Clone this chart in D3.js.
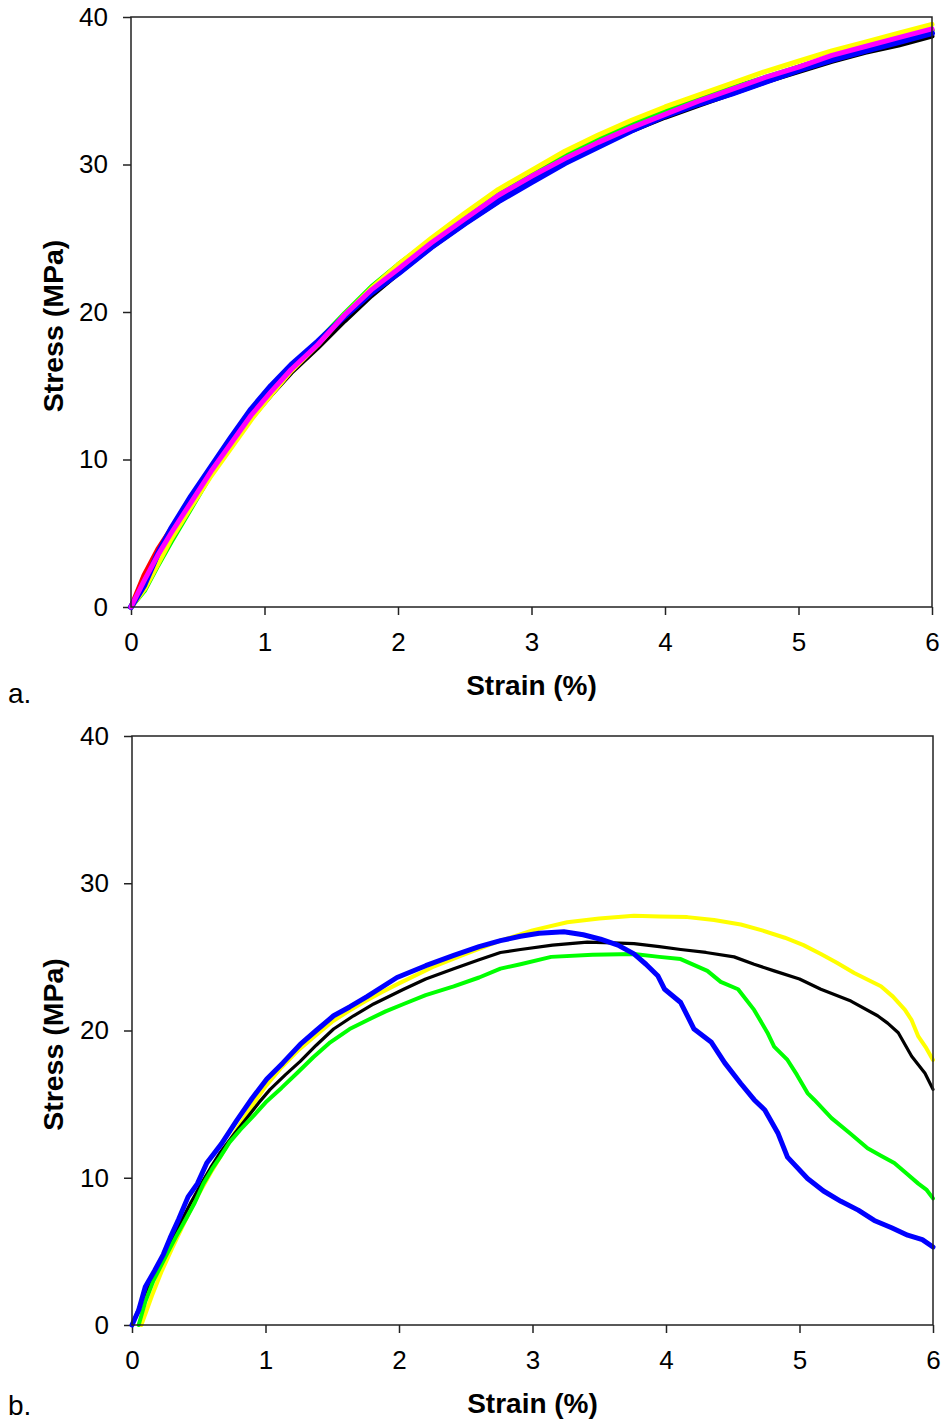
<!DOCTYPE html>
<html>
<head>
<meta charset="utf-8">
<script src="https://cdn.jsdelivr.net/npm/d3@7"></script>
<style>
  body { margin: 0; background: #fff; }
  text { font-family: "Liberation Sans", Arial, sans-serif; }
</style>
</head>
<body>
<div id="chart"></div>
<script>
// panel a: one strain grid, six specimens
var aStrain = [0, 0.1, 0.2, 0.3, 0.45, 0.6, 0.75, 0.9, 1.05, 1.2, 1.4, 1.6, 1.8, 2.0, 2.25, 2.5, 2.75, 3.0, 3.25, 3.5, 3.75, 4.0, 4.25, 4.5, 4.75, 5.0, 5.25, 5.5, 5.75, 6.0];
var aBlack   = [0, 1.6, 3.3, 4.9, 7.0, 9.0, 11.0, 12.8, 14.4, 15.9, 17.6, 19.4, 21.1, 22.6, 24.4, 26.0, 27.5, 28.9, 30.1, 31.3, 32.3, 33.2, 34.0, 34.8, 35.6, 36.3, 37.0, 37.6, 38.1, 38.7];
var aRed     = [0, 2.2, 3.9, 5.3, 7.3, 9.4, 11.3, 13.1, 14.7, 16.2, 17.9, 19.8, 21.4, 22.9, 24.7, 26.3, 27.8, 29.1, 30.4, 31.5, 32.5, 33.4, 34.2, 35.0, 35.8, 36.6, 37.3, 38.0, 38.6, 39.1];
var aGreen   = [0, 1.1, 2.8, 4.4, 6.7, 9.0, 11.0, 12.9, 14.6, 16.2, 18.0, 19.9, 21.7, 23.2, 24.9, 26.5, 28.0, 29.4, 30.6, 31.7, 32.7, 33.6, 34.4, 35.2, 35.9, 36.6, 37.3, 38.0, 38.6, 39.1];
var aYellow  = [0, 1.2, 2.9, 4.6, 6.8, 8.9, 10.8, 12.7, 14.4, 16.0, 17.8, 19.8, 21.6, 23.2, 25.0, 26.7, 28.3, 29.6, 30.9, 32.0, 33.0, 33.9, 34.7, 35.5, 36.3, 37.0, 37.7, 38.3, 38.9, 39.5];
var aBlue    = [0, 1.5, 3.6, 5.3, 7.5, 9.5, 11.5, 13.4, 15.0, 16.4, 18.0, 19.7, 21.3, 22.6, 24.4, 26.0, 27.5, 28.8, 30.1, 31.2, 32.3, 33.3, 34.1, 34.8, 35.6, 36.4, 37.1, 37.7, 38.3, 38.9];
var aMagenta = [0, 1.8, 3.5, 5.0, 7.1, 9.2, 11.1, 13.0, 14.6, 16.1, 17.8, 19.8, 21.5, 22.9, 24.7, 26.3, 27.9, 29.2, 30.4, 31.5, 32.5, 33.4, 34.3, 35.1, 35.9, 36.6, 37.4, 38.0, 38.6, 39.2];

// panel b: four specimens, [strain, stress]
var bYellow = [[0.07,0],[0.11,1.0],[0.15,2.0],[0.22,3.6],[0.3,5.2],[0.4,7.1],[0.5,8.9],[0.6,10.5],[0.7,12.0],[0.8,13.5],[0.9,14.9],[1.0,16.2],[1.12,17.5],[1.25,18.7],[1.38,19.7],[1.5,20.6],[1.62,21.3],[1.75,22.0],[1.87,22.6],[2.0,23.2],[2.25,24.3],[2.5,25.2],[2.76,26.1],[3.0,26.8],[3.26,27.35],[3.5,27.6],[3.76,27.8],[3.95,27.75],[4.16,27.7],[4.36,27.5],[4.56,27.2],[4.72,26.8],[4.89,26.3],[5.03,25.8],[5.16,25.2],[5.28,24.6],[5.41,23.9],[5.61,23.0],[5.7,22.3],[5.79,21.4],[5.84,20.7],[5.89,19.6],[5.95,18.8],[6.0,18.0]];
var bBlack = [[0,0],[0.08,1.8],[0.185,3.9],[0.27,5.4],[0.36,6.9],[0.44,8.3],[0.52,9.6],[0.59,10.7],[0.66,11.7],[0.76,12.9],[0.86,14.05],[0.95,15.1],[1.035,16.0],[1.15,17.0],[1.26,17.9],[1.38,19.0],[1.51,20.1],[1.66,21.0],[1.81,21.8],[2.035,22.8],[2.2,23.5],[2.41,24.2],[2.6,24.8],[2.76,25.3],[2.91,25.5],[3.15,25.8],[3.41,26.0],[3.6,25.95],[3.76,25.9],[3.95,25.7],[4.11,25.5],[4.3,25.3],[4.51,25.0],[4.66,24.5],[4.81,24.05],[5.0,23.5],[5.16,22.8],[5.385,22.0],[5.585,21.0],[5.66,20.5],[5.74,19.85],[5.84,18.25],[5.94,17.1],[6.0,16.0]];
var bGreen = [[0.05,0],[0.1,1.6],[0.16,3.0],[0.26,4.8],[0.33,6.0],[0.41,7.3],[0.47,8.3],[0.535,9.6],[0.6,10.6],[0.66,11.4],[0.73,12.4],[0.81,13.25],[0.91,14.2],[1.01,15.2],[1.12,16.1],[1.235,17.1],[1.36,18.2],[1.485,19.2],[1.63,20.1],[1.785,20.8],[1.9,21.3],[2.035,21.8],[2.2,22.4],[2.41,23.0],[2.6,23.6],[2.76,24.2],[2.91,24.5],[3.14,25.0],[3.45,25.15],[3.76,25.2],[3.95,25.0],[4.11,24.85],[4.31,24.05],[4.41,23.3],[4.54,22.8],[4.66,21.4],[4.76,19.85],[4.81,18.9],[4.91,18.0],[4.98,17.0],[5.06,15.75],[5.11,15.3],[5.24,14.05],[5.38,13.0],[5.51,12.0],[5.61,11.5],[5.71,11.0],[5.8,10.3],[5.89,9.6],[5.95,9.2],[6.0,8.6]];
var bBlue = [[0,0],[0.05,1.0],[0.1,2.6],[0.17,3.7],[0.235,4.8],[0.285,5.9],[0.35,7.2],[0.42,8.7],[0.49,9.6],[0.56,11.0],[0.67,12.3],[0.785,13.9],[0.9,15.4],[1.01,16.7],[1.13,17.8],[1.26,19.05],[1.38,20.0],[1.51,21.0],[1.63,21.6],[1.76,22.3],[1.985,23.6],[2.2,24.4],[2.41,25.1],[2.6,25.7],[2.76,26.1],[2.91,26.4],[3.05,26.6],[3.235,26.7],[3.38,26.5],[3.51,26.2],[3.64,25.8],[3.76,25.2],[3.85,24.5],[3.94,23.7],[3.99,22.8],[4.11,21.9],[4.21,20.1],[4.34,19.2],[4.44,17.8],[4.56,16.4],[4.66,15.3],[4.74,14.6],[4.84,13.0],[4.91,11.4],[5.06,9.95],[5.18,9.1],[5.31,8.4],[5.44,7.8],[5.56,7.1],[5.69,6.6],[5.81,6.1],[5.92,5.8],[6.0,5.3]];

var xTicks = [0, 1, 2, 3, 4, 5, 6];
var yTicks = [0, 10, 20, 30, 40];

var svg = d3.select("#chart").append("svg")
  .attr("width", 944)
  .attr("height", 1424);

function drawPanel(box, series, letter, letterY) {
  var x = d3.scaleLinear().domain([0, 6]).range([box.left, box.right]);
  var y = d3.scaleLinear().domain([0, 40]).range([box.bottom, box.top]);

  var g = svg.append("g");

  g.append("g")
    .attr("transform", `translate(0, ${box.bottom})`)
    .call(d3.axisBottom(x).tickValues(xTicks).tickSize(8).tickPadding(18).tickFormat(d3.format("d")))
    .call(a => a.select(".domain").remove())
    .call(a => a.selectAll("text").attr("font-size", 26).attr("fill", "#000").attr("font-family", "Liberation Sans, Arial, sans-serif"))
    .call(a => a.selectAll("line").attr("stroke", "#222").attr("stroke-width", 1.5));

  g.append("g")
    .attr("transform", `translate(${box.left}, 0)`)
    .call(d3.axisLeft(y).tickValues(yTicks).tickSize(8).tickPadding(15).tickFormat(d3.format("d")))
    .call(a => a.select(".domain").remove())
    .call(a => a.selectAll("text").attr("font-size", 26).attr("fill", "#000").attr("font-family", "Liberation Sans, Arial, sans-serif"))
    .call(a => a.selectAll("line").attr("stroke", "#222").attr("stroke-width", 1.5));

  var line = d3.line()
    .x(d => x(d[0]))
    .y(d => y(d[1]));

  series.forEach(function(s) {
    g.append("path")
      .datum(s.points)
      .attr("fill", "none")
      .attr("stroke", s.color)
      .attr("stroke-width", s.width)
      .attr("stroke-linejoin", "round")
      .attr("stroke-linecap", "round")
      .attr("d", line);
  });

  // frame
  g.append("rect")
    .attr("x", box.left)
    .attr("y", box.top)
    .attr("width", box.right - box.left)
    .attr("height", box.bottom - box.top)
    .attr("fill", "none")
    .attr("stroke", "#222")
    .attr("stroke-width", 1.5);

  g.append("text")
    .attr("x", (box.left + box.right) / 2)
    .attr("y", box.bottom + 88)
    .attr("text-anchor", "middle")
    .attr("font-size", 28)
    .attr("font-weight", "bold")
    .text("Strain (%)");

  g.append("text")
    .attr("transform", `translate(63, ${(box.top + box.bottom) / 2 + 14}) rotate(-90)`)
    .attr("text-anchor", "middle")
    .attr("font-size", 28.5)
    .attr("font-weight", "bold")
    .text("Stress (MPa)");

  g.append("text")
    .attr("x", 8)
    .attr("y", letterY)
    .attr("font-family", "Liberation Serif, Times New Roman, serif")
    .attr("font-size", 28)
    .text(letter);
}

var zipA = arr => aStrain.map((s, i) => [s, arr[i]]);

drawPanel({left: 131, right: 932, top: 17, bottom: 607}, [
  {points: zipA(aBlack), color: "#000000", width: 5},
  {points: zipA(aRed), color: "#ff0000", width: 5},
  {points: zipA(aGreen), color: "#00ff00", width: 5},
  {points: zipA(aYellow), color: "#ffff00", width: 5},
  {points: zipA(aBlue), color: "#0000ff", width: 6},
  {points: zipA(aMagenta), color: "#ff00ff", width: 5}
], "a.", 703);

drawPanel({left: 132, right: 933, top: 736, bottom: 1325}, [
  {points: bYellow, color: "#ffff00", width: 4},
  {points: bBlack, color: "#000000", width: 3.2},
  {points: bGreen, color: "#00ff00", width: 4},
  {points: bBlue, color: "#0000ff", width: 5}
], "b.", 1415);
</script>
</body>
</html>
